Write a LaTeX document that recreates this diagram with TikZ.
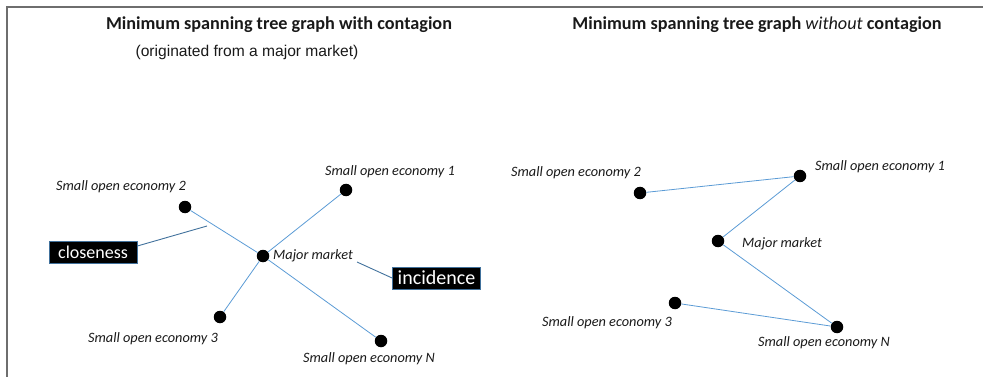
\documentclass[tikz,border=0pt]{standalone}
\usepackage{fontspec}
\setmainfont{Carlito}
\newfontfamily\arialfont{Liberation Sans}
\definecolor{edgeblue}{HTML}{5B9BD5}
\definecolor{callout}{HTML}{41719C}
\definecolor{framegray}{HTML}{6E6E6E}
\begin{document}
\begin{tikzpicture}[x=1pt,y=-1pt,
  dot/.style={circle,fill=black,inner sep=0pt,minimum size=12.5pt},
  lbl/.style={font=\fontsize{14.3}{16}\selectfont\itshape,inner sep=0pt,text=black!90},
  title/.style={font=\fontsize{18.2}{21}\selectfont\bfseries,inner sep=0pt,text=black!90},
  edge/.style={draw=edgeblue,line width=0.8pt},
  tag/.style={fill=black,draw=callout,line width=0.8pt,text=white,
    font=\fontsize{18}{20}\selectfont,inner xsep=3pt,inner ysep=0pt,
    minimum height=22pt,minimum width=88pt},
  pointer/.style={draw=callout,line width=0.9pt}]
\useasboundingbox (0,0) rectangle (983,377);
% frame
\draw[framegray,line width=2pt] (7,377) -- (7,7) -- (983,7);

% ---- left panel: with contagion ----
\node[title] (tl) at (279,25) {Minimum spanning tree graph with contagion};
\node[inner sep=0pt,font=\arialfont\fontsize{15.6}{18}\selectfont,text=black!90] (st) at (247,52) {(originated from a major market)};

\node[dot] (lmm) at (263,256) {};
\node[dot] (ls1) at (346,190) {};
\node[dot] (ls2) at (185,207) {};
\node[dot] (ls3) at (220,317) {};
\node[dot] (lsn) at (381,341) {};

\node[lbl,anchor=west] (lmmt) at (273,256) {Major market};
\node[lbl] (ls1t) at (390,172) {Small open economy 1};
\node[lbl] (ls2t) at (121,187) {Small open economy 2};
\node[lbl] (ls3t) at (153,339) {Small open economy 3};
\node[lbl] (lsnt) at (369,359) {Small open economy N};

\draw[edge] (lmm) -- (ls1);
\draw[edge] (lmm) -- (ls2);
\draw[edge] (lmm) -- (ls3);
\draw[edge] (lmm) -- (lsn);

\node[tag] (clo) at (93,252) {closeness};
\node[tag,font=\fontsize{20}{22}\selectfont] (inc) at (436.5,278) {incidence};
\coordinate (clp) at (207,226);
\coordinate (incp) at (357,262);
\draw[pointer] (clo.east) ++(0,-6) -- (clp);
\draw[pointer] (incp) -- (inc.west);

% ---- right panel: without contagion ----
\node[title] (tr) at (757,25) {Minimum spanning tree graph \textmd{\itshape without} contagion};

\node[dot] (rmm) at (718,241) {};
\node[dot] (rs1) at (800,176) {};
\node[dot] (rs2) at (640,193) {};
\node[dot] (rs3) at (675,303) {};
\node[dot] (rsn) at (837,327) {};

\node[lbl,anchor=west] (rmmt) at (742,244) {Major market};
\node[lbl] (rs1t) at (880,167) {Small open economy 1};
\node[lbl] (rs2t) at (576,173) {Small open economy 2};
\node[lbl] (rs3t) at (607,323) {Small open economy 3};
\node[lbl] (rsnt) at (824,343) {Small open economy N};

\draw[edge] (rs2) -- (rs1);
\draw[edge] (rs1) -- (rmm);
\draw[edge] (rmm) -- (rsn);
\draw[edge] (rsn) -- (rs3);
\end{tikzpicture}
\end{document}
